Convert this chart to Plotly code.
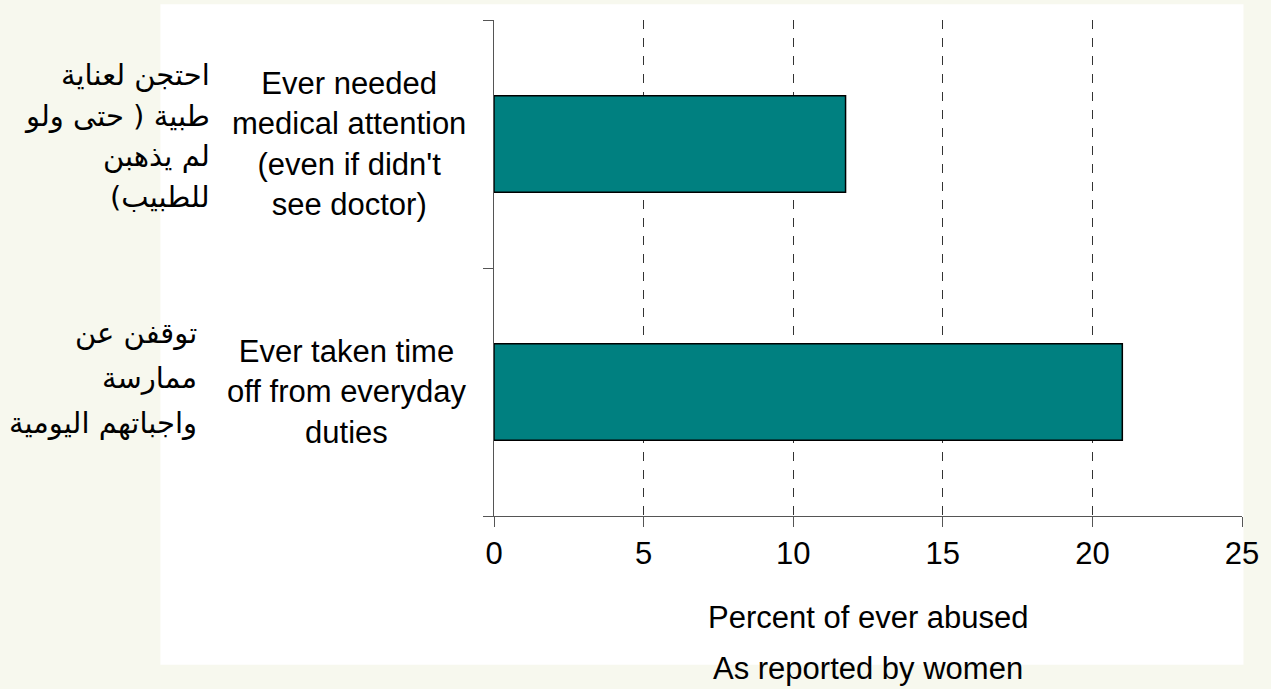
import plotly.graph_objects as go

categories = ["Ever taken time<br>off from everyday<br>duties",
              "Ever needed<br>medical attention<br>(even if didn't<br>see doctor)"]
arabic_labels = [["توقفن عن", "ممارسة", "واجباتهم اليومية"],
                 ["احتجن لعناية", "طبية ( حتى ولو", "لم يذهبن", "للطبيب)"]]
values = [21.0, 11.75]
x_ticks = [0, 5, 10, 15, 20, 25]
x_title = "Percent of ever abused"
subtitle = "As reported by women"

FONT = "Liberation Sans, Arial, sans-serif"
AR_FONT = "DejaVu Sans, sans-serif"
RLM = "\u200f"
fig = go.Figure()
fig.add_trace(go.Bar(
    x=values, y=categories, orientation="h", width=0.39,
    marker=dict(color="#008080", line=dict(color="black", width=1.5)),
    showlegend=False, hoverinfo="skip"))

fig.update_layout(
    width=1271, height=689,
    margin=dict(l=494, r=26, t=20, b=173),
    paper_bgcolor="#F7F8EE", plot_bgcolor="white",
    font=dict(family=FONT, size=31, color="black"),
    xaxis=dict(range=[0, 25], tickvals=x_ticks, ticks="outside", ticklen=10,
               tickcolor="#555555", showline=True, linecolor="#555555", linewidth=1,
               showgrid=True, gridcolor="#333333", gridwidth=1, griddash="dash",
               zeroline=False, tickfont=dict(size=31), fixedrange=True),
    yaxis=dict(type="category", categoryarray=categories, tickson="boundaries",
               ticks="outside", ticklen=10, tickcolor="#555555", showticklabels=False,
               showline=True, linecolor="#555555", linewidth=1, showgrid=False,
               zeroline=False, fixedrange=True),
    shapes=[dict(type="rect", xref="paper", yref="paper", x0=-0.446, x1=1.002,
                 y0=-0.300, y1=1.032, fillcolor="white", line=dict(width=0),
                 layer="below")],
)

for cat in categories:
    fig.add_annotation(x=0, xref="paper", y=cat, yref="y", text=cat, showarrow=False,
                       xanchor="right", yanchor="middle", align="center", xshift=-26,
                       font=dict(family=FONT, size=31))

ar_style = [dict(x=-0.395, shift=14, gap=45), dict(x=-0.377, shift=8, gap=40.7)]
for cat, lines, st in zip(categories, arabic_labels, ar_style):
    n = len(lines)
    for j, line in enumerate(lines):
        fig.add_annotation(x=st["x"], xref="paper", y=cat, yref="y", text=RLM + line + RLM,
                           showarrow=False, xanchor="right", yanchor="middle",
                           yshift=st["shift"] - (j - (n - 1) / 2) * st["gap"],
                           font=dict(family=AR_FONT, size=29))

fig.add_annotation(x=0.5, xref="paper", y=-0.204, yref="paper", text=x_title,
                   showarrow=False, xanchor="center", yanchor="middle",
                   font=dict(family=FONT, size=31))
fig.add_annotation(x=0.5, xref="paper", y=-0.307, yref="paper", text=subtitle,
                   showarrow=False, xanchor="center", yanchor="middle",
                   font=dict(family=FONT, size=31))

fig.write_html("out.html")
